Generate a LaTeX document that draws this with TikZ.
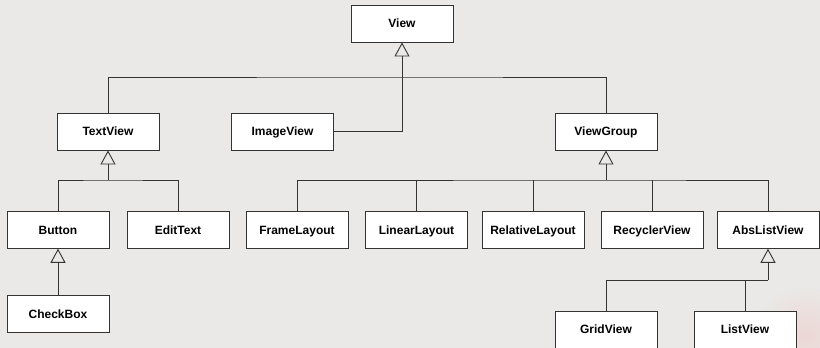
\documentclass[tikz,border=0pt]{standalone}
\usepackage{fontspec}
\setmainfont{Liberation Sans}
\usetikzlibrary{arrows.meta}
\definecolor{bgc}{HTML}{EAE9E7}
\definecolor{linec}{HTML}{333333}
\begin{document}
\begin{tikzpicture}[x=1pt,y=-1pt,
  cls/.style={draw=linec, line width=0.9pt, fill=white, minimum width=102pt, minimum height=37pt, inner sep=0pt, text height=8.6pt, text depth=0pt, font=\fontsize{12}{14}\selectfont\bfseries},
  link/.style={draw=linec, line width=0.9pt},
  inh/.style={link, -{Triangle[open, length=14pt, width=15pt, line width=0.9pt]}}]
\useasboundingbox (0,0) rectangle (820,348);
\begin{scope}
\clip (0,0) rectangle (820,348);
\fill[bgc] (0,0) rectangle (820,348);
\shade[inner color=red!8!bgc, outer color=bgc] (805,335) circle (50);
\end{scope}
% nodes
\node[cls] (view) at (402,23.5) {View};
\node[cls] (textview) at (108,131.5) {TextView};
\node[cls] (imageview) at (282.5,131.5) {ImageView};
\node[cls] (viewgroup) at (606,131.5) {ViewGroup};
\node[cls] (button) at (58,229.8) {Button};
\node[cls] (edittext) at (178,229.8) {EditText};
\node[cls] (frame) at (297,229.8) {FrameLayout};
\node[cls] (linear) at (416.5,229.8) {LinearLayout};
\node[cls] (relative) at (533,229.8) {RelativeLayout};
\node[cls] (recycler) at (652,229.8) {RecyclerView};
\node[cls] (abslist) at (768,229.8) {AbsListView};
\node[cls] (checkbox) at (58,314.2) {CheckBox};
\node[cls] (gridview) at (606,329.5) {GridView};
\node[cls] (listview) at (745,329.5) {ListView};
% bar coordinates
\coordinate (b1) at (402,77);
\coordinate (b2) at (108,180);
\coordinate (b3) at (606,180);
\coordinate (b4) at (768,280);
% View
\draw[inh] (imageview.east) -| (view.south);
\draw[link] (textview.north) |- (b1) -| (viewgroup.north);
% TextView
\draw[inh] (b2) -- (textview.south);
\draw[link] (button.north) |- (b2) -| (edittext.north);
% ViewGroup
\draw[inh] (b3) -- (viewgroup.south);
\draw[link] (frame.north) |- (b3) -| (abslist.north);
\draw[link] (linear.north) -- (linear.north |- b3);
\draw[link] (relative.north) -- (relative.north |- b3);
\draw[link] (recycler.north) -- (recycler.north |- b3);
% Button
\draw[inh] (checkbox.north) -- (button.south);
% AbsListView
\draw[inh] (b4) -- (abslist.south);
\draw[link] (gridview.north) |- (b4);
\draw[link] (listview.north) -- (listview.north |- b4);
\end{tikzpicture}
\end{document}
